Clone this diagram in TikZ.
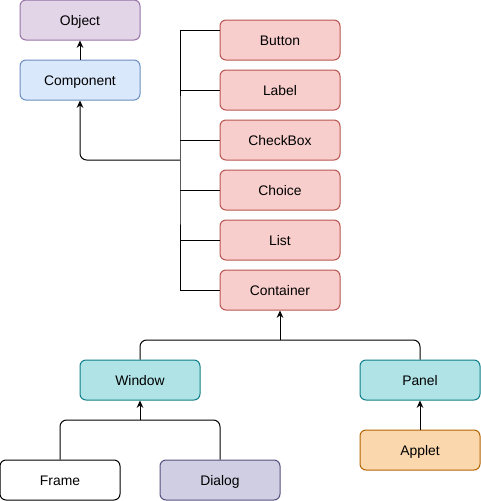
\documentclass[tikz,border=0pt]{standalone}
\usepackage{fontspec}
\setmainfont{Liberation Sans}
\usetikzlibrary{arrows.meta}

\definecolor{objfill}{HTML}{E1D5E7}\definecolor{objline}{HTML}{9673A6}
\definecolor{compfill}{HTML}{DAE8FC}\definecolor{compline}{HTML}{6C8EBF}
\definecolor{redfill}{HTML}{F8CECC}\definecolor{redline}{HTML}{B85450}
\definecolor{tealfill}{HTML}{B0E3E6}\definecolor{tealline}{HTML}{0E8088}
\definecolor{dlgfill}{HTML}{D0CEE2}\definecolor{dlgline}{HTML}{56517E}
\definecolor{appfill}{HTML}{FAD7AC}\definecolor{appline}{HTML}{B46504}

\tikzset{
  box/.style={draw, rounded corners=4.5pt, line width=0.75pt,
    minimum width=90pt, minimum height=30pt, inner sep=0pt,
    text height=7.5pt, text depth=0pt,
    font=\fontsize{10.4}{12}\selectfont},
  objbox/.style={box, fill=objfill, draw=objline},
  compbox/.style={box, fill=compfill, draw=compline},
  redbox/.style={box, fill=redfill, draw=redline},
  tealbox/.style={box, fill=tealfill, draw=tealline},
  wire/.style={line width=0.75pt},
  arrow/.style={wire, -{Stealth[length=5.5pt,width=5pt]}}
}

\begin{document}
\begin{tikzpicture}[x=0.75pt, y=-0.75pt]
  \useasboundingbox (0,0) rectangle (481,501);

  % top of the tree
  \node (obj) at (80, 20) [objbox] {Object};
  \node (comp) at (80, 80) [compbox] {Component};
  \draw[arrow] (comp.north) -- (obj.south);

  % Component subclasses
  \node (btn) at (280, 40) [redbox] {Button};
  \node (lbl) at (280, 90) [redbox] {Label};
  \node (chk) at (280, 140) [redbox] {CheckBox};
  \node (chc) at (280, 190) [redbox] {Choice};
  \node (lst) at (280, 240) [redbox] {List};
  \node (cont) at (280, 290) [redbox] {Container};

  \coordinate (join) at (180, 160);
  \draw[wire] ([yshift=7.5pt]btn.west) -| (join) |- (cont.west);
  \foreach \n in {lbl,chk,chc,lst}
    \draw[wire] (\n.west) -- (\n.west -| join);
  \draw[arrow, rounded corners=5pt] (join) -| (comp.south);

  % Container subclasses
  \node (win) at (140, 380) [tealbox] {Window};
  \node (pan) at (420, 380) [tealbox] {Panel};
  \coordinate (cjoin) at (280, 340);
  \draw[arrow] (cjoin) -- (cont.south);
  \draw[wire, rounded corners=5pt] (win.north) |- (cjoin) -| (pan.north);

  % Window and Panel subclasses
  \node (frm) at (60, 480) [box, fill=white, draw=black] {Frame};
  \node (dlg) at (220, 480) [box, fill=dlgfill, draw=dlgline] {Dialog};
  \node (app) at (420, 450) [box, fill=appfill, draw=appline] {Applet};
  \coordinate (wjoin) at (140, 420);
  \draw[arrow] (wjoin) -- (win.south);
  \draw[wire, rounded corners=5pt] (frm.north) |- (wjoin) -| (dlg.north);
  \draw[arrow] (app.north) -- (pan.south);
\end{tikzpicture}
\end{document}
